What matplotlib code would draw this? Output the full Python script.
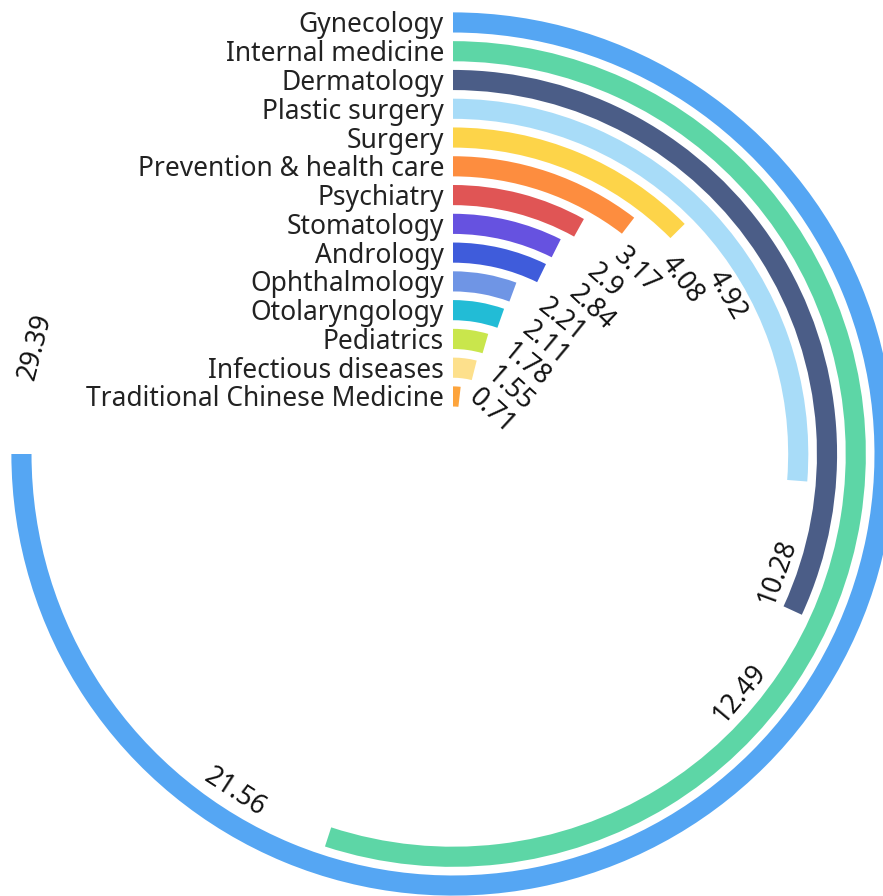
import numpy as np
import matplotlib.pyplot as plt

departments = ["Gynecology", "Internal medicine", "Dermatology", "Plastic surgery",
               "Surgery", "Prevention & health care", "Psychiatry", "Stomatology",
               "Andrology", "Ophthalmology", "Otolaryngology", "Pediatrics",
               "Infectious diseases", "Traditional Chinese Medicine"]
shares = [29.39, 21.56, 12.49, 10.28, 4.92, 4.08, 3.17, 2.9, 2.84, 2.21, 2.11,
          1.78, 1.55, 0.71]
colors = ["#55a6f3", "#5dd6a6", "#4b5d87", "#a8dcf8", "#fdd449", "#fd8d3f",
          "#e05555", "#6652e0", "#3f5cdb", "#6f95e5", "#22bcd6", "#c9e64c",
          "#fde08c", "#fda43c"]

plt.rcParams["font.family"] = ["Noto Sans", "DejaVu Sans"]

W, H = 883, 896
cx, cy = 453, 454      # centre of the rings, pixels from top-left
R = 445                # radius of the polar axes in pixels
step = 28.77           # pixels between rings

fig = plt.figure(figsize=(W / 100, H / 100), dpi=100)
ax = fig.add_axes([(cx - R) / W, (H - cy - R) / H, 2 * R / W, 2 * R / H],
                  projection="polar")
ax.set_theta_zero_location("N")
ax.set_theta_direction(-1)
rmax = R / step
ax.set_ylim(0, rmax)
ax.set_axis_off()

rings = np.arange(len(shares), 0, -1) + 1.0
theta = np.array(shares) / max(shares) * 1.5 * np.pi

ax.barh(rings, theta, height=0.7, left=0, color=colors)

for r, name in zip(rings, departments):
    ax.annotate(name, xy=(0, r), xytext=(-9, -10), textcoords="offset pixels",
                ha="right", va="baseline", fontsize=19, color="#222222")

# value labels follow the arc, a bit past the end of each bar
fig.canvas.draw()
renderer = fig.canvas.get_renderer()
px_per_unit = R / rmax
gap = 10.0
for r, v, th in zip(rings, shares, theta):
    t = ax.text(0, r, f"{v:g}", fontsize=19, color="#111111",
                ha="center", va="center", rotation_mode="anchor")
    w = t.get_window_extent(renderer).width
    ang = np.degrees(th) + gap + np.degrees(w / 2 / (r * px_per_unit))
    rot = (180 - ang) % 360
    if rot > 180:
        rot -= 360
    if rot > 90:
        rot -= 180
    elif rot < -90:
        rot += 180
    t.set_position((np.radians(ang), r))
    t.set_rotation(rot)

fig.savefig("out.png", dpi=100)
